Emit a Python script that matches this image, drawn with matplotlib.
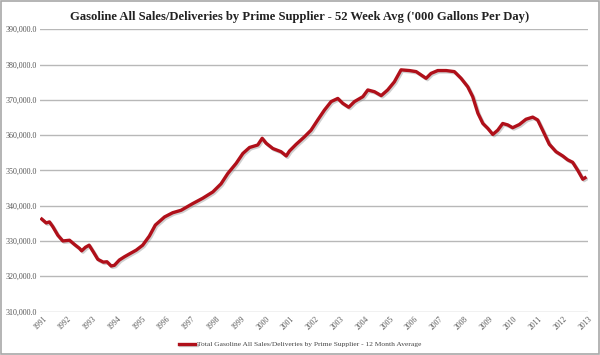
import matplotlib
matplotlib.use('Agg')
import matplotlib.pyplot as plt
import matplotlib.patheffects as pe
from matplotlib.ticker import FuncFormatter
import numpy as np

# values, '000 gallons per day
years = [1990.97, 1991.15, 1991.28, 1991.42, 1991.62, 1991.82, 1992.09, 1992.29,
         1992.49, 1992.58, 1992.73, 1992.88, 1993.05, 1993.23, 1993.45, 1993.6,
         1993.77, 1993.9, 1994.1, 1994.3, 1994.5, 1994.78, 1995.04, 1995.31,
         1995.55, 1995.92, 1996.25, 1996.59, 1997.06, 1997.46, 1997.87, 1998.2,
         1998.47, 1998.81, 1999.08, 1999.35, 1999.68, 1999.86, 2000.02, 2000.29,
         2000.62, 2000.83, 2000.96, 2001.23, 2001.56, 2001.83, 2002.1, 2002.37,
         2002.64, 2002.91, 2003.11, 2003.35, 2003.58, 2003.92, 2004.12, 2004.39,
         2004.66, 2004.92, 2005.19, 2005.46, 2005.8, 2006.07, 2006.47, 2006.67,
         2006.94, 2007.28, 2007.61, 2007.88, 2008.15, 2008.35, 2008.56, 2008.76,
         2008.96, 2009.16, 2009.36, 2009.56, 2009.76, 2009.96, 2010.23, 2010.5,
         2010.77, 2010.97, 2011.17, 2011.44, 2011.71, 2011.98, 2012.18, 2012.38,
         2012.58, 2012.79, 2012.88]
values = [336.2, 335.1, 335.4, 334.0, 331.6, 330.0, 330.2, 329.0,
          327.9, 327.2, 328.2, 328.8, 326.9, 324.8, 324.0, 324.1,
          322.9, 323.1, 324.6, 325.5, 326.3, 327.4, 328.8, 331.4,
          334.5, 336.8, 338.0, 338.7, 340.6, 342.1, 343.9, 346.2,
          349.1, 352.0, 354.8, 356.5, 357.2, 359.1, 357.7, 356.2,
          355.3, 354.1, 355.5, 357.4, 359.5, 361.4, 364.3, 367.1,
          369.5, 370.4, 369.0, 367.9, 369.5, 370.9, 372.8, 372.3,
          371.2, 372.8, 375.1, 378.5, 378.3, 378.0, 376.1, 377.5,
          378.3, 378.3, 378.0, 376.1, 373.7, 370.9, 366.2, 363.3,
          361.9, 360.2, 361.4, 363.3, 362.9, 362.1, 363.0, 364.5,
          365.1, 364.3, 361.4, 357.4, 355.3, 354.1, 353.0, 352.3,
          350.1, 347.5, 347.9]
tick_years = list(range(1991, 2014))
y_ticks = [310000, 320000, 330000, 340000, 350000, 360000, 370000, 380000, 390000]

title = "Gasoline All Sales/Deliveries by Prime Supplier - 52 Week Avg ('000 Gallons Per Day)"
series_name = "Total Gasoline All Sales/Deliveries by Prime Supplier - 12 Month Average"

fig = plt.figure(figsize=(6, 3.55), dpi=100)
fig.patch.set_facecolor('white')
# thin grey frame round the picture
fig.patches.append(plt.Rectangle((0.001, 0.002), 0.997, 0.995, transform=fig.transFigure,
                                 fill=False, edgecolor='#a8a8a8', lw=1.2))

ax = fig.add_axes([0.0667, 0.1225, 0.9133, 0.795])
vals = np.array(values) * 1000
line, = ax.plot(years, vals, color='#b0101a', lw=2.4, label=series_name, zorder=3,
                path_effects=[pe.SimpleLineShadow(offset=(1, -1), shadow_color='#888888', alpha=0.4),
                              pe.Normal()])

ax.set_xlim(1990.9, 2013.0)
ax.set_ylim(310000, 390000)
ax.set_yticks(y_ticks)
ax.yaxis.set_major_formatter(FuncFormatter(lambda v, p: '{:,.1f}'.format(v)))
ax.set_xticks(tick_years)
ax.set_xticklabels([str(y) for y in tick_years], rotation=45, ha='right',
                   rotation_mode='anchor', fontsize=5.5, color='#555555', family='Liberation Serif')
for lab in ax.get_yticklabels():
    lab.set_fontsize(5.8)
    lab.set_color('#555555')
    lab.set_family('Liberation Serif')

ax.grid(axis='y', color='#b8b8b8', lw=1)
ax.set_axisbelow(True)
ax.tick_params(length=0, pad=2.5)
for s in ax.spines.values():
    s.set_visible(False)

fig.text(0.5, 0.952, title, ha='center', va='center', fontsize=9.1,
         family='Liberation Serif', weight='bold', color='#222222')

leg = fig.legend(handles=[line], loc='center', bbox_to_anchor=(0.5, 0.03), frameon=False,
                 prop={'family': 'Liberation Serif', 'size': 5.4}, handlelength=2.2,
                 handletextpad=0.2)
for t in leg.get_texts():
    t.set_color('#444444')

fig.savefig('out.png', dpi=100)
